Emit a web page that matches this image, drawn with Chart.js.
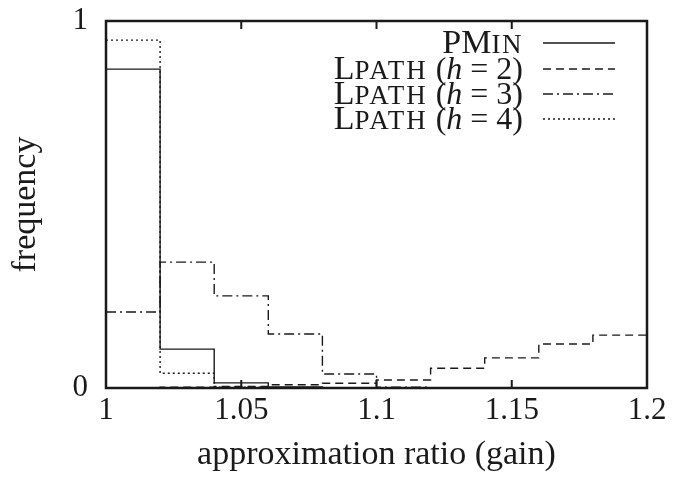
<!DOCTYPE html>
<html>
<head>
<meta charset="utf-8">
<script src="https://cdn.jsdelivr.net/npm/chart.js@4/dist/chart.umd.min.js"></script>
<style>
  html, body { margin: 0; padding: 0; background: #fff; }
  #wrap { width: 675px; height: 477px; }
</style>
</head>
<body>
<div id="wrap"><canvas id="histChart" width="675" height="477"></canvas></div>
<script>
// ===== DATA =====
const binEdges = [1.00, 1.02, 1.04, 1.06, 1.08, 1.10, 1.12, 1.14, 1.16, 1.18, 1.20];
const pminFreq = [0.869, 0.106, 0.014, 0.003, 0, 0, 0, 0, 0, 0];
const lpath2Freq = [0, 0.002, 0.004, 0.009, 0.013, 0.022, 0.054, 0.082, 0.120, 0.144];
const lpath3Freq = [0.207, 0.343, 0.251, 0.147, 0.038, 0.002, 0, 0, 0, 0];
const lpath4Freq = [0.948, 0.040, 0.002, 0, 0, 0, 0, 0, 0, 0];
const xTicks = [1, 1.05, 1.1, 1.15, 1.2];
const yTicks = [0, 1];

const FONT = '"Liberation Serif", "DejaVu Serif", serif';
const INK = '#1a1a1a';

// legend text pieces [text, size, italic, letterSpacing]; small caps = smaller capitals
const legendParts = [
    [['P', 34], ['M', 34], ['IN', 27, false, 1.5]],
    [['L', 34], ['PATH', 27, false, 2], [' (', 32], ['h', 32, true], [' = 2)', 32]],
    [['L', 34], ['PATH', 27, false, 2], [' (', 32], ['h', 32, true], [' = 3)', 32]],
    [['L', 34], ['PATH', 27, false, 2], [' (', 32], ['h', 32, true], [' = 4)', 32]]
];

// histogram steps: each value holds from its bin edge to the next one
function toSteps(values) {
    return binEdges.map((x, i) => ({ x: x, y: values[Math.min(i, values.length - 1)] }));
}

function series(label, values, dash) {
    return {
        label: label,
        data: toSteps(values),
        stepped: 'before',
        borderColor: INK,
        borderWidth: 1.4,
        borderDash: dash,
        pointRadius: 0,
        fill: false
    };
}

const frameAndTicks = {
    id: 'frameAndTicks',
    afterDraw(chart) {
        const { ctx, chartArea: a, scales } = chart;
        ctx.save();
        ctx.strokeStyle = INK;
        ctx.lineWidth = 2;
        // inward tick marks on top and bottom
        scales.x.ticks.forEach(t => {
            const px = scales.x.getPixelForValue(t.value);
            ctx.beginPath();
            ctx.moveTo(px, a.bottom); ctx.lineTo(px, a.bottom - 8);
            ctx.moveTo(px, a.top); ctx.lineTo(px, a.top + 8);
            ctx.stroke();
        });
        ctx.lineWidth = 2.5;
        ctx.strokeRect(a.left, a.top, a.right - a.left, a.bottom - a.top);
        ctx.restore();
    }
};

const stepLegend = {
    id: 'stepLegend',
    afterDraw(chart) {
        const { ctx } = chart;
        const textRight = 523;
        const lineX0 = 543, lineX1 = 615;
        const rowY = [43, 69, 94, 119];
        const setFont = (p) => {
            ctx.font = (p[2] ? 'italic ' : '') + p[1] + 'px ' + FONT;
            ctx.letterSpacing = (p[3] || 0) + 'px';
        };
        ctx.save();
        ctx.fillStyle = INK;
        ctx.textBaseline = 'alphabetic';
        chart.data.datasets.forEach((ds, i) => {
            const parts = legendParts[i];
            const widths = parts.map(p => { setFont(p); return ctx.measureText(p[0]).width; });
            let x = textRight - widths.reduce((s, w) => s + w, 0);
            parts.forEach((p, k) => {
                setFont(p);
                ctx.fillText(p[0], x, rowY[i] + 10);
                x += widths[k];
            });
            ctx.letterSpacing = '0px';
            ctx.strokeStyle = INK;
            ctx.lineWidth = ds.borderWidth;
            ctx.setLineDash(ds.borderDash || []);
            ctx.beginPath();
            ctx.moveTo(lineX0, rowY[i]);
            ctx.lineTo(lineX1, rowY[i]);
            ctx.stroke();
        });
        ctx.restore();
    }
};

const ctx = document.getElementById('histChart').getContext('2d');
new Chart(ctx, {
    type: 'line',
    data: {
        datasets: [
            series('PMin', pminFreq, []),
            series('LPath (h = 2)', lpath2Freq, [8, 5]),
            series('LPath (h = 3)', lpath3Freq, [10, 4, 2, 4]),
            series('LPath (h = 4)', lpath4Freq, [2, 3])
        ]
    },
    options: {
        responsive: false,
        animation: false,
        layout: { padding: { left: 0, top: 21, right: 28, bottom: 0 } },
        plugins: {
            legend: { display: false },
            tooltip: { enabled: false }
        },
        scales: {
            x: {
                type: 'linear',
                min: 1,
                max: 1.2,
                afterFit: (s) => { s.height = 89; s.paddingLeft = 0; s.paddingRight = 0; },
                afterBuildTicks: (s) => { s.ticks = xTicks.map(v => ({ value: v })); },
                grid: { display: false, drawTicks: false },
                border: { display: false },
                ticks: {
                    color: INK,
                    padding: 7,
                    font: { family: FONT, size: 31, lineHeight: 1 },
                    callback: (v) => String(parseFloat(Number(v).toFixed(2)))
                },
                title: {
                    display: true,
                    text: 'approximation ratio (gain)',
                    color: INK,
                    font: { family: FONT, size: 34 },
                    padding: { top: 2, bottom: 2 }
                }
            },
            y: {
                min: 0,
                max: 1,
                afterFit: (s) => { s.width = 106; s.paddingTop = 0; s.paddingBottom = 0; },
                afterBuildTicks: (s) => { s.ticks = yTicks.map(v => ({ value: v })); },
                grid: { display: false, drawTicks: false },
                border: { display: false },
                ticks: {
                    color: INK,
                    padding: 18,
                    font: { family: FONT, size: 31, lineHeight: 1 }
                },
                title: {
                    display: true,
                    text: 'frequency',
                    color: INK,
                    font: { family: FONT, size: 34 },
                    padding: { top: 6, bottom: 0 }
                }
            }
        }
    },
    plugins: [frameAndTicks, stepLegend]
});
</script>
</body>
</html>
